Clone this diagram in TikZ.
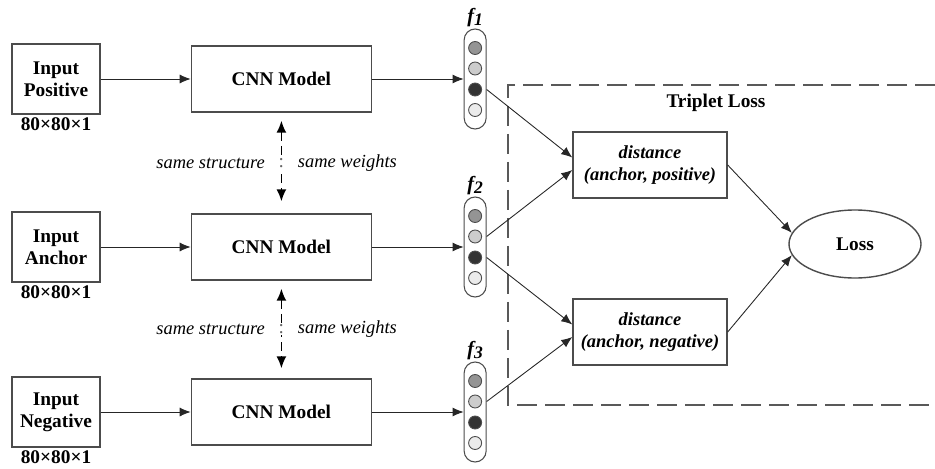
\documentclass[tikz,border=0pt]{standalone}
\usepackage{fontspec}
\setmainfont{Liberation Serif}
\usepackage{tikz}
\usetikzlibrary{positioning,arrows.meta,shapes.geometric,calc}

\begin{document}
\begin{tikzpicture}[
        node distance=1.8cm,
        font=\fontsize{11}{12.5}\selectfont,
        inbox/.style={draw=black!70, line width=0.8pt, minimum width=1.76cm, minimum height=1.4cm,
                      align=center, font=\fontsize{11}{12.5}\selectfont\bfseries},
        cnn/.style={inbox, minimum width=3.6cm, minimum height=1.32cm},
        dist/.style={inbox, minimum width=3.08cm, minimum height=1.32cm,
                     font=\fontsize{10.5}{13}\selectfont\bfseries\itshape},
        size/.style={inner sep=1pt, font=\fontsize{11}{12.5}\selectfont\bfseries},
        vec/.style={draw=black!70, line width=0.6pt, rounded corners=0.22cm,
                    minimum width=0.44cm, minimum height=2cm, inner sep=0pt},
        dot/.style={circle, draw=black!70, line width=0.5pt, minimum size=0.26cm, inner sep=0pt},
        flab/.style={inner sep=1pt, font=\fontsize{11.5}{12}\selectfont\bfseries\itshape},
        note/.style={inner sep=1pt, font=\fontsize{10.5}{12}\selectfont\itshape},
        arrow/.style={-{Latex[length=2.2mm,width=1.8mm]}, black!85, line width=0.5pt},
        share/.style={{Latex[length=2.4mm,width=2mm]}-{Latex[length=2.4mm,width=2mm]},
                      black, line width=0.9pt, dash pattern=on 5pt off 3pt},
        region/.style={black!65, line width=0.9pt, dash pattern=on 0.4cm off 0.16cm},
    ]
        \useasboundingbox (0,0) rectangle (18.7,-9.38);

        % inputs
        \node[inbox] (inp) at (1.12,-1.58) {Input\\Positive};
        \node[inbox] (ina) at (1.12,-4.94) {Input\\Anchor};
        \node[inbox] (inn) at (1.12,-8.24) {Input\\Negative};
        \node[size, below=0.5pt of inp] (szp) {80×80×1};
        \node[size, below=0.5pt of ina] (sza) {80×80×1};
        \node[size, below=0.5pt of inn] (szn) {80×80×1};

        % shared CNNs
        \node[cnn, right=of inp] (cnnp) {CNN Model};
        \node[cnn, right=of ina] (cnna) {CNN Model};
        \node[cnn, right=of inn] (cnnn) {CNN Model};

        % feature vectors
        \node[vec, right=1.83cm of cnnp] (fp) {};
        \node[vec, right=1.83cm of cnna] (fa) {};
        \node[vec, right=1.83cm of cnnn] (fn) {};
        \foreach \v in {p,a,n}
            \foreach \k/\dy/\col in {1/0.62/black!42, 2/0.21/black!20, 3/-0.21/black!80, 4/-0.62/black!8}
                \node[dot, fill=\col] (\v\k) at ($(f\v.center)+(0,\dy)$) {};
        \node[flab, above=0pt of fp] (lp) {f\raisebox{-0.4ex}{\fontsize{10}{10}\selectfont 1}};
        \node[flab, above=0pt of fa] (la) {f\raisebox{-0.4ex}{\fontsize{10}{10}\selectfont 2}};
        \node[flab, above=0pt of fn] (ln) {f\raisebox{-0.4ex}{\fontsize{10}{10}\selectfont 3}};

        % triplet loss part
        \draw[region] (18.7,-1.7) -| (10.16,-8.1) -- (18.7,-8.1);
        \node[font=\fontsize{11}{12.5}\selectfont\bfseries] (tl) at (14.32,-2.06) {Triplet Loss};
        \node[dist] (dp) at (13,-3.30) {distance\\(anchor, positive)};
        \node[dist] (dn) at (13,-6.64) {distance\\(anchor, negative)};
        \node[ellipse, draw=black!70, line width=0.8pt, minimum width=2.64cm, minimum height=1.36cm,
              font=\fontsize{11}{12.5}\selectfont\bfseries] (loss) at (17.1,-4.88) {Loss};

        \foreach \v in {p,a,n} {
            \draw[arrow] (in\v) -- (cnn\v);
            \draw[arrow] (cnn\v) -- (f\v);
        }

        \draw[share, shorten <=0.16cm, shorten >=0.24cm] (cnnp) --
            node[pos=0.5, fill=white, inner sep=0.5pt, text=black!60] {:}
            node[pos=0.5, left=0.28cm, note] {same structure}
            node[pos=0.5, right=0.28cm, note] {same weights} (cnna);
        \draw[share, shorten <=0.16cm, shorten >=0.2cm] (cnna) --
            node[pos=0.5, fill=white, inner sep=0.5pt, text=black!60] {:}
            node[pos=0.5, left=0.28cm, note] {same structure}
            node[pos=0.5, right=0.28cm, note] {same weights} (cnnn);

        \draw[arrow] (fp.east |- p3) -- ($(dp.west)+(0,0.15)$);
        \draw[arrow] (fa.east |- a2) -- ($(dp.west)+(0,-0.1)$);
        \draw[arrow] (fa.east |- a3) -- ($(dn.west)+(0,0.15)$);
        \draw[arrow] (fn.east |- n2) -- ($(dn.west)+(0,-0.1)$);

        \draw[arrow] (dp.east) -- (loss.170);
        \draw[arrow] (dn.east) -- (loss.190);
    \end{tikzpicture}
\end{document}
